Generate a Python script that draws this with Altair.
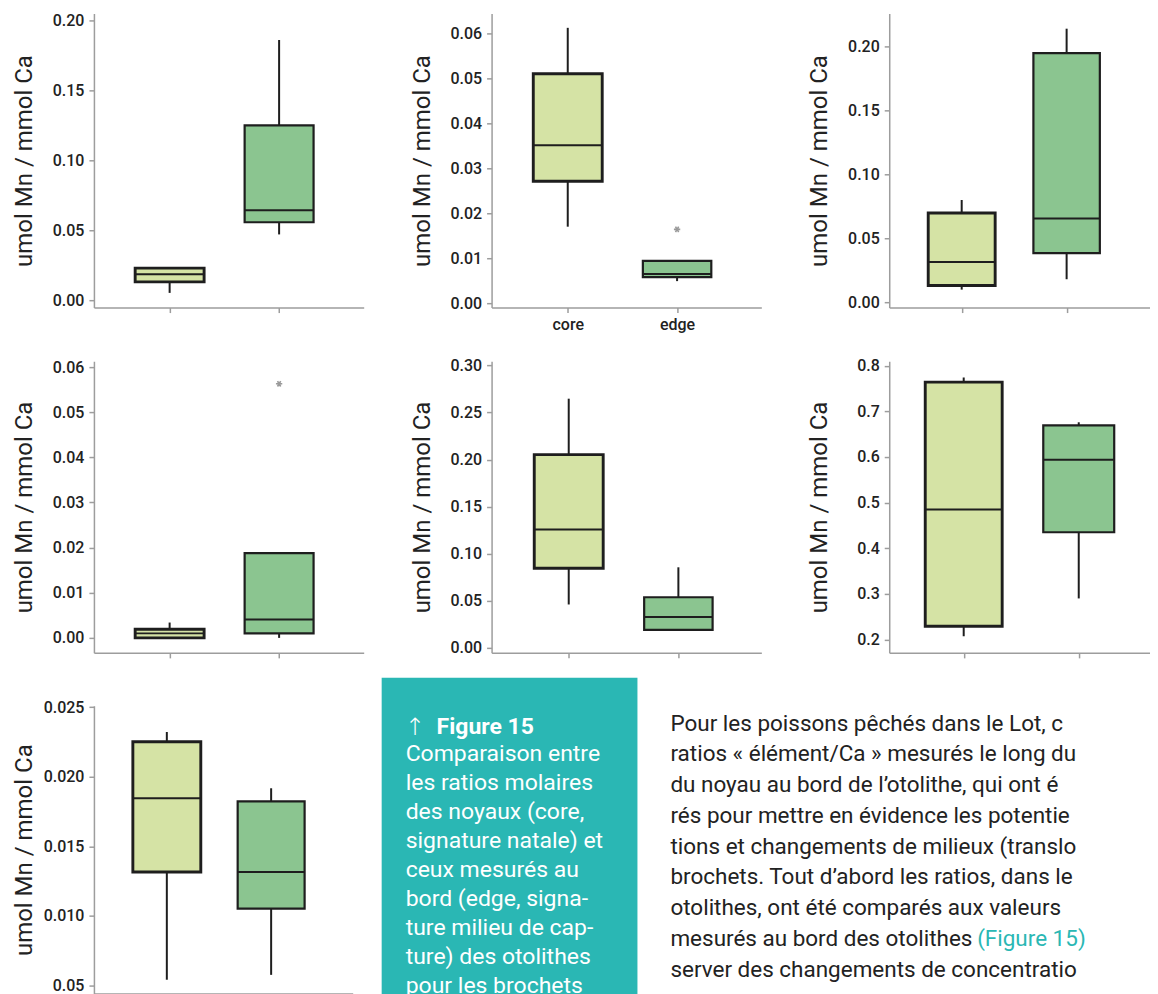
import altair as alt
import pandas as pd

# ---------------- data ----------------
cats = ["core", "edge"]
cat_pos = [1, 2]

# box statistics per panel (7 panels, reading order)
core_low  = [0.0052, 0.0170, 0.0101, 0.0000, 0.0461, 0.207, 0.00542]
core_q1   = [0.0131, 0.0271, 0.0133, 0.0000, 0.0846, 0.229, 0.01316]
core_med  = [0.0186, 0.0351, 0.0317, 0.0010, 0.1257, 0.485, 0.01845]
core_q3   = [0.0229, 0.0510, 0.0699, 0.0019, 0.2053, 0.764, 0.02251]
core_high = [0.0229, 0.0612, 0.0800, 0.0034, 0.2647, 0.774, 0.02321]
edge_low  = [0.0470, 0.0049, 0.0182, 0.0000, 0.0191, 0.290, 0.00577]
edge_q1   = [0.0557, 0.0058, 0.0385, 0.0010, 0.0191, 0.435, 0.01053]
edge_med  = [0.0643, 0.0065, 0.0655, 0.0041, 0.0329, 0.594, 0.01316]
edge_q3   = [0.1250, 0.0094, 0.1946, 0.0188, 0.0538, 0.669, 0.01823]
edge_high = [0.1860, 0.0094, 0.2136, 0.0188, 0.0856, 0.676, 0.01917]

outlier_panel = [1, 3]          # 0-based panel index
outlier_cat = ["edge", "edge"]
outlier_value = [0.0164, 0.0563]

y_tick_values = [
    [0.00, 0.05, 0.10, 0.15, 0.20],
    [0.00, 0.01, 0.02, 0.03, 0.04, 0.05, 0.06],
    [0.00, 0.05, 0.10, 0.15, 0.20],
    [0.00, 0.01, 0.02, 0.03, 0.04, 0.05, 0.06],
    [0.00, 0.05, 0.10, 0.15, 0.20, 0.25, 0.30],
    [0.2, 0.3, 0.4, 0.5, 0.6, 0.7, 0.8],
    [0.005, 0.010, 0.015, 0.020, 0.025],
]
y_title = "umol Mn / mmol Ca"

caption_head = "Figure 15"
caption_lines = [
    "Comparaison entre",
    "les ratios molaires",
    "des noyaux (core,",
    "signature natale) et",
    "ceux mesurés au",
    "bord (edge, signa-",
    "ture milieu de cap-",
    "ture) des otolithes",
    "pour les brochets",
]
para_lines = [
    "Pour les poissons pêchés dans le Lot, c",
    "ratios « élément/Ca » mesurés le long du",
    "du noyau au bord de l’otolithe, qui ont é",
    "rés pour mettre en évidence les potentie",
    "tions et changements de milieux (translo",
    "brochets. Tout d’abord les ratios, dans le",
    "otolithes, ont été comparés aux valeurs",
    "mesurés au bord des otolithes",
    "server des changements de concentratio",
]
para_link = "(Figure 15)"

# ---------------- styling / layout ----------------
INK = "#1e1e1e"
CORE = "#d5e3a5"
EDGE = "#8bc590"
TEAL = "#2ab7b4"
AXIS = "#9d9d9d"
FONT = "Roboto"

y_domains = [(-0.0053, 0.205), (-0.00098, 0.0644), (-0.0039, 0.2255),
             (-0.00332, 0.06132), (-0.0053, 0.3046), (0.1707, 0.810),
             (0.004426, 0.02509)]
x_domains = [(0.354, 2.727), (0.349, 2.725), (0.357, 2.747),
             (0.354, 2.727), (0.342, 2.711), (0.396, 2.576),
             (0.349, 2.734)]
widths = [270, 270, 261, 270, 270, 261, 259]
heights = [294.4, 294.4, 294.4, 292, 292, 292, 288]
box_w = [(69, 69), (69, 68.5), (67, 66.5), (69, 69), (69, 68.5), (77, 71), (68, 67)]
y_formats = [".2f", ".2f", ".2f", ".2f", ".2f", ".1f", ".3f"]

ASTERISK = "M-1,0L1,0M-0.5,-0.866L0.5,0.866M-0.5,0.866L0.5,-0.866"


def panel(k):
    df = pd.DataFrame({
        "cat": cats,
        "pos": cat_pos,
        "low": [core_low[k], edge_low[k]],
        "q1": [core_q1[k], edge_q1[k]],
        "med": [core_med[k], edge_med[k]],
        "q3": [core_q3[k], edge_q3[k]],
        "high": [core_high[k], edge_high[k]],
    })
    xs = alt.Scale(domain=list(x_domains[k]), nice=False, zero=False)
    ys = alt.Scale(domain=list(y_domains[k]), nice=False, zero=False)
    xaxis = alt.Axis(values=[1, 2], title=None, labels=(k == 1),
                     labelExpr="datum.value == 1 ? 'core' : 'edge'",
                     grid=False)
    if k == 6:
        yaxis = alt.Axis(values=y_tick_values[k], title=y_title, grid=False,
                         labelExpr="datum.value < 0.0075 ? '0.05' : format(datum.value, '.3f')")
    else:
        yaxis = alt.Axis(values=y_tick_values[k], title=y_title, grid=False,
                         format=y_formats[k])
    X = alt.X("pos:Q", scale=xs, axis=xaxis)

    def Y(f):
        return alt.Y(f, scale=ys, axis=yaxis)

    is_core = "datum.cat == 'core'"
    base = alt.Chart(df)
    whisk = base.mark_rule(color=INK, strokeWidth=2).encode(
        x=X, y=Y("low:Q"), y2="high:Q")
    box = base.mark_bar(stroke=INK, opacity=1).encode(
        x=X, y=Y("q1:Q"), y2="q3:Q",
        color=alt.Color("cat:N", scale=alt.Scale(domain=cats, range=[CORE, EDGE]), legend=None),
        size=alt.condition(is_core, alt.value(box_w[k][0]), alt.value(box_w[k][1])),
        strokeWidth=alt.condition(is_core, alt.value(2.9), alt.value(2.2)),
    )
    med = base.mark_tick(orient="horizontal", thickness=2, color=INK, opacity=1).encode(
        x=X, y=Y("med:Q"),
        size=alt.condition(is_core, alt.value(box_w[k][0]), alt.value(box_w[k][1])),
    )
    layers = [whisk, box, med]
    out_rows = [(c, v) for p, c, v in zip(outlier_panel, outlier_cat, outlier_value) if p == k]
    if out_rows:
        odf = pd.DataFrame({"cat": [r[0] for r in out_rows],
                            "pos": [cat_pos[cats.index(r[0])] for r in out_rows],
                            "val": [r[1] for r in out_rows]})
        pts = alt.Chart(odf).mark_point(shape=ASTERISK, filled=False, stroke="#9a9a9a",
                                        strokeWidth=1.6, size=40, opacity=1).encode(
            x=X, y=Y("val:Q"))
        layers.append(pts)
    return alt.layer(*layers).properties(width=widths[k], height=heights[k])


panels = [panel(k) for k in range(7)]

# ---------------- caption box ----------------
one = pd.DataFrame({"k": [0]})
cap_df = pd.DataFrame({"t": caption_lines, "i": list(range(len(caption_lines)))})
teal_box = alt.Chart(one).mark_rect(color=TEAL).encode(
    x=alt.value(-110), x2=alt.value(146), y=alt.value(-28), y2=alt.value(300))
arrow = alt.Chart(one).mark_text(align="left", baseline="alphabetic", font="DejaVu Sans",
                                 fontSize=24, fontWeight=300, color="white", text="↑").encode(
    x=alt.value(-87), y=alt.value(29))
head = alt.Chart(one).mark_text(align="left", baseline="alphabetic", font=FONT,
                                fontSize=23, fontWeight="bold", color="white",
                                text=caption_head).encode(
    x=alt.value(-55), y=alt.value(28.6))
cap_text = alt.Chart(cap_df).mark_text(align="left", baseline="alphabetic", font=FONT,
                                       fontSize=23, color="white").encode(
    x=alt.value(-86),
    y=alt.Y("i:Q", scale=alt.Scale(domain=[0, 8], range=[55.3, 287]), axis=None),
    text="t:N")
caption = alt.layer(teal_box, arrow, head, cap_text).properties(width=270, height=288)

# ---------------- paragraph ----------------
para_df = pd.DataFrame({"t": para_lines, "i": list(range(len(para_lines)))})
para_text = alt.Chart(para_df).mark_text(align="left", baseline="alphabetic", font=FONT,
                                         fontSize=22.5, color="#222222").encode(
    x=alt.value(-219),
    y=alt.Y("i:Q", scale=alt.Scale(domain=[0, 8], range=[24.8, 271.2]), axis=None),
    text="t:N")
link = alt.Chart(one).mark_text(align="left", baseline="alphabetic", font=FONT,
                                fontSize=22.5, color=TEAL, text=para_link).encode(
    x=alt.value(88), y=alt.value(240.4))
paragraph = alt.layer(para_text, link).properties(width=261, height=288)

chart = alt.concat(*panels, caption, paragraph, columns=3,
                   spacing={"row": 53, "column": 128}, bounds="flush").properties(
    padding={"left": 4, "top": 3, "right": 0, "bottom": 0},
    background="white",
).configure_view(stroke=None).configure_axis(
    domainColor=AXIS, domainWidth=1.5, tickColor=AXIS, tickWidth=1.5, tickSize=5,
    labelFont=FONT, labelFontSize=16, labelFontWeight=500, labelColor="#222222",
    titleFont=FONT, titleFontSize=24, titleFontWeight="normal", titleColor="#222222",
).configure_axisY(
    minExtent=40, maxExtent=40, titlePadding=17.3, labelPadding=5,
).configure_axisX(
    labelPadding=4,
)

chart.save("out.html", embed_options={"renderer": "svg", "actions": False})
